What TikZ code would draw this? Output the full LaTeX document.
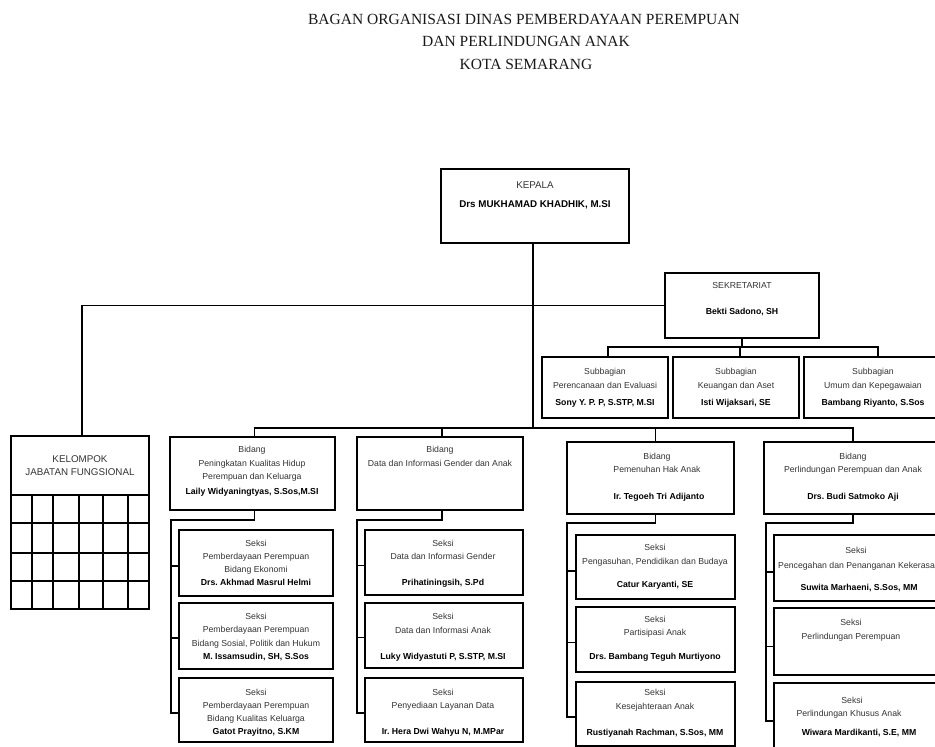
\documentclass[tikz,border=0pt]{standalone}
\usepackage{fontspec}
\setmainfont{Liberation Serif}
\newfontfamily\arialf{Liberation Sans}
\frenchspacing
\newcommand\mkbox[5]{\node[box, minimum width={(#4-#2)*1pt}, minimum height={(#5-#3)*1pt}] (#1) at ({(#2+#4)/2},{(#3+#5)/2}) {};}
\newcommand\mktx[5][txt]{\node[#1] (#2) at (#3,#4) {#5};}
\tikzset{
  box/.style={draw, line width=1.6pt, inner sep=0pt, outer sep=0pt},
  ln/.style={line width=1.5pt},
  txt/.style={font=\arialf\frenchspacing\fontsize{8.7}{10}\selectfont, inner sep=0pt, outer sep=0pt, text height=6.2pt, text depth=1.8pt, text=black!80},
  txtb/.style={txt, font=\arialf\frenchspacing\bfseries\fontsize{8.7}{10}\selectfont, text=black},
  txtk/.style={txt, font=\arialf\frenchspacing\fontsize{9.8}{11}\selectfont},
  txtkb/.style={txt, font=\arialf\frenchspacing\bfseries\fontsize{9.8}{11}\selectfont, text=black},
  ttl/.style={font=\fontsize{15.5}{18}\selectfont, inner sep=0pt, outer sep=0pt, text height=10.3pt, text depth=0pt, text=black!90}
}
\begin{document}
\begin{tikzpicture}[x=1pt,y=-1pt]
\useasboundingbox (0,0) rectangle (935,747);
\clip (0,0) rectangle (935,747);
% title
\mktx[ttl]{ti1}{524}{19.5}{BAGAN ORGANISASI DINAS PEMBERDAYAAN PEREMPUAN}
\mktx[ttl]{ti2}{526}{41}{DAN PERLINDUNGAN ANAK}
\mktx[ttl]{ti3}{526}{64}{KOTA SEMARANG}
% boxes
\mkbox{kep}{441}{169}{629}{243}
\mkbox{sek}{665}{273}{819}{338}
\mkbox{sb1}{542}{357}{668}{418}
\mkbox{sb2}{673}{357}{799}{418}
\mkbox{sb3}{804}{357}{952}{418}
\mkbox{kel}{11}{436}{149}{609}
\mkbox{bid1}{170}{437}{335}{510}
\mkbox{bid2}{357}{437}{523}{510}
\mkbox{bid3}{567}{442}{734}{514}
\mkbox{bid4}{764}{442}{942}{514}
\mkbox{s11}{179}{530}{333}{596}
\mkbox{s12}{179}{603}{333}{669}
\mkbox{s13}{179}{678}{333}{742}
\mkbox{s21}{365}{530}{523}{595}
\mkbox{s22}{365}{603}{523}{668}
\mkbox{s23}{365}{678}{523}{742}
\mkbox{s31}{576}{535}{735}{599}
\mkbox{s32}{576}{607}{735}{672}
\mkbox{s33}{576}{682}{735}{746}
\mkbox{s41}{774}{535}{942}{601}
\mkbox{s42}{774}{608}{942}{675}
\mkbox{s43}{774}{683}{942}{755}
% kelompok grid
\draw[ln] (kel.west |- 0,495) -- (kel.east |- 0,495);
\foreach \yy in {523,553,581} {\draw[ln] (kel.west |- 0,\yy) -- (kel.east |- 0,\yy);}
\foreach \xx in {32,53,79,103,128} {\draw[ln] (\xx,495) -- (kel.south -| \xx,0);}
% coordinates
\coordinate (bb) at (0,428);
\coordinate (sbb) at (0,347);
\coordinate (c1) at (171,520);
\coordinate (c2) at (357,520);
\coordinate (c3) at (567,523);
\coordinate (c4) at (766,523);
% connectors
\draw[ln] ([xshift=-2pt]kep.south) -- ([xshift=-2pt]kep.south |- bb);
\draw[ln] ([xshift=2pt]kel.north) |- (sek.west);
\draw[ln] (sek.south) -- (sek.south |- sbb);
\draw[ln] ([xshift=3pt]sb1.north) |- (sek.south |- sbb) -| (sb3.north);
\draw[ln] ([xshift=4pt]sb2.north) -- ([xshift=4pt]sb2.north |- sbb);
\draw[ln] ([xshift=2pt]bid1.north) |- ([xshift=-2pt]kep.south |- bb) -| (bid4.north);
\draw[ln] ([xshift=2pt]bid2.north) -- ([xshift=2pt]bid2.north |- bb);
\draw[ln] ([xshift=5pt]bid3.north) -- ([xshift=5pt]bid3.north |- bb);
% seksi brackets
\draw[ln] ([xshift=2pt]bid1.south) |- (c1) |- ([yshift=-3pt]s13.west);
\draw[ln] ([yshift=-3pt]s11.west -| c1) -- ([yshift=-3pt]s11.west);
\draw[ln] ([yshift=-2pt]s12.west -| c1) -- ([yshift=-2pt]s12.west);
\draw[ln] ([xshift=2pt]bid2.south) |- (c2) |- ([yshift=-3pt]s23.west);
\draw[ln] ([yshift=-3pt]s21.west -| c2) -- ([yshift=-3pt]s21.west);
\draw[ln] ([yshift=-2pt]s22.west -| c2) -- ([yshift=-2pt]s22.west);
\draw[ln] ([xshift=5pt]bid3.south) |- (c3) |- ([yshift=-3pt]s33.west);
\draw[ln] ([yshift=-4pt]s31.west -| c3) -- ([yshift=-4pt]s31.west);
\draw[ln] ([yshift=-3pt]s32.west -| c3) -- ([yshift=-3pt]s32.west);
\draw[ln] (bid4.south) |- (c4) |- ([yshift=-2pt]s43.west);
\draw[ln] ([yshift=-4pt]s41.west -| c4) -- ([yshift=-4pt]s41.west);
\draw[ln] ([yshift=-5pt]s42.west -| c4) -- ([yshift=-5pt]s42.west);
% texts
\mktx[txtk]{kp1}{535}{186}{KEPALA}
\mktx[txtkb]{kp2}{535}{205}{Drs MUKHAMAD KHADHIK, M.SI}
\mktx{sk1}{742}{286}{SEKRETARIAT}
\mktx[txtb]{sk2}{742}{312}{Bekti Sadono, SH}
\mktx{sb1a}{605}{372}{Subbagian}
\mktx{sb1b}{605}{386}{Perencanaan dan Evaluasi}
\mktx[txtb]{sb1c}{605}{403}{Sony Y. P. P, S.STP, M.SI}
\mktx{sb2a}{736}{372}{Subbagian}
\mktx{sb2b}{736}{386}{Keuangan dan Aset}
\mktx[txtb]{sb2c}{736}{403}{Isti Wijaksari, SE}
\mktx{sb3a}{873}{372}{Subbagian}
\mktx{sb3b}{873}{386}{Umum dan Kepegawaian}
\mktx[txtb]{sb3c}{873}{403}{Bambang Riyanto, S.Sos}
\mktx[txtk]{ke1}{80}{460}{KELOMPOK}
\mktx[txtk]{ke2}{80}{473}{JABATAN FUNGSIONAL}
\mktx{b1a}{252}{450}{Bidang}
\mktx{b1b}{252}{464}{Peningkatan Kualitas Hidup}
\mktx{b1c}{252}{477}{Perempuan dan Keluarga}
\mktx[txtb]{b1d}{252}{492}{Laily Widyaningtyas, S.Sos,M.SI}
\mktx{b2a}{440}{450}{Bidang}
\mktx{b2b}{440}{464}{Data dan Informasi Gender dan Anak}
\mktx{b3a}{657}{457}{Bidang}
\mktx{b3b}{657}{470}{Pemenuhan Hak Anak}
\mktx[txtb]{b3c}{659}{497}{Ir. Tegoeh Tri Adijanto}
\mktx{b4a}{853}{457}{Bidang}
\mktx{b4b}{853}{470}{Perlindungan Perempuan dan Anak}
\mktx[txtb]{b4c}{853}{497}{Drs. Budi Satmoko Aji}
% col1
\mktx{t11a}{256}{544}{Seksi}
\mktx{t11b}{256}{557}{Pemberdayaan Perempuan}
\mktx{t11c}{256}{570}{Bidang Ekonomi}
\mktx[txtb]{t11d}{256}{583}{Drs. Akhmad Masrul Helmi}
\mktx{t12a}{256}{617}{Seksi}
\mktx{t12b}{256}{630}{Pemberdayaan Perempuan}
\mktx{t12c}{256}{644}{Bidang Sosial, Politik dan Hukum}
\mktx[txtb]{t12d}{256}{657}{M. Issamsudin, SH, S.Sos}
\mktx{t13a}{256}{693}{Seksi}
\mktx{t13b}{256}{706}{Pemberdayaan Perempuan}
\mktx{t13c}{256}{719}{Bidang Kualitas Keluarga}
\mktx[txtb]{t13d}{256}{732}{Gatot Prayitno, S.KM}
% col2
\mktx{t21a}{443}{544}{Seksi}
\mktx{t21b}{443}{557}{Data dan Informasi Gender}
\mktx[txtb]{t21c}{443}{583}{Prihatiningsih, S.Pd}
\mktx{t22a}{443}{617}{Seksi}
\mktx{t22b}{443}{631}{Data dan Informasi Anak}
\mktx[txtb]{t22c}{443}{657}{Luky Widyastuti P, S.STP, M.SI}
\mktx{t23a}{443}{693}{Seksi}
\mktx{t23b}{443}{706}{Penyediaan Layanan Data}
\mktx[txtb]{t23c}{443}{732}{Ir. Hera Dwi Wahyu N, M.MPar}
% col3
\mktx{t31a}{655}{548}{Seksi}
\mktx{t31b}{655}{562}{Pengasuhan, Pendidikan dan Budaya}
\mktx[txtb]{t31c}{655}{585}{Catur Karyanti, SE}
\mktx{t32a}{655}{620}{Seksi}
\mktx{t32b}{655}{633}{Partisipasi Anak}
\mktx[txtb]{t32c}{655}{657}{Drs. Bambang Teguh Murtiyono}
\mktx{t33a}{655}{693}{Seksi}
\mktx{t33b}{655}{707}{Kesejahteraan Anak}
\mktx[txtb]{t33c}{655}{733}{Rustiyanah Rachman, S.Sos, MM}
% col4
\mktx{t41a}{856}{551}{Seksi}
\mktx{t41b}{859}{566}{Pencegahan dan Penanganan Kekerasan}
\mktx[txtb]{t41c}{859}{588}{Suwita Marhaeni, S.Sos, MM}
\mktx{t42a}{851}{623}{Seksi}
\mktx{t42b}{851}{637}{Perlindungan Perempuan}
\mktx{t43a}{852}{701}{Seksi}
\mktx{t43b}{849}{714}{Perlindungan Khusus Anak}
\mktx[txtb]{t43c}{859}{733}{Wiwara Mardikanti, S.E, MM}
\end{tikzpicture}
\end{document}
